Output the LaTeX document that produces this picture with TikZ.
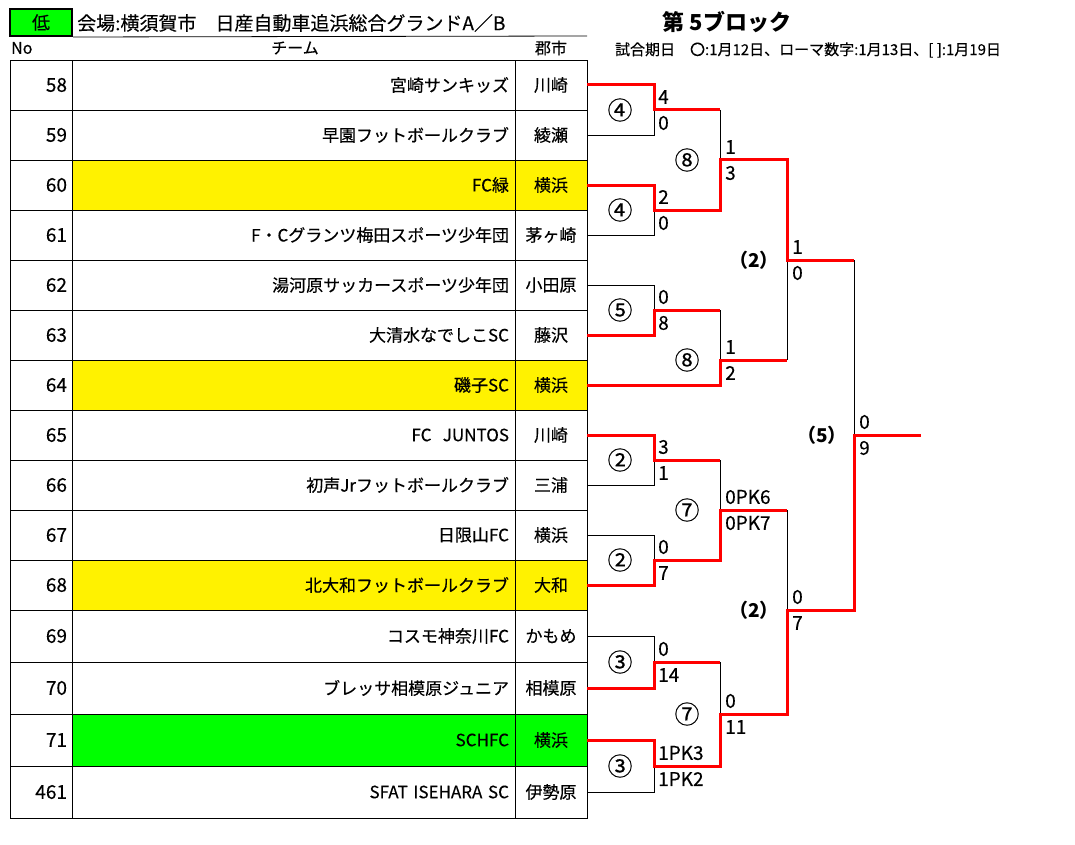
\documentclass[tikz,border=0pt]{standalone}
\usepackage{fontspec}
\setmainfont{Noto Sans CJK JP}[UprightFeatures={FakeBold=0.3}]
\usepackage{tikz}
\usepackage{xcolor}

\begin{document}
\begin{tikzpicture}[x=1pt, y=-1pt,
  cell/.style={draw, line width=0.8pt, minimum height=50pt, inner ysep=0pt, font=\fontsize{17}{17}\selectfont},
  numcell/.style={cell, minimum width=62pt, text width=52pt, inner xsep=5pt, align=right, font=\fontsize{19}{19}\selectfont},
  teamcell/.style={cell, minimum width=443pt, text width=431pt, inner xsep=6pt, align=right},
  citycell/.style={cell, minimum width=72pt, text width=66pt, inner xsep=3pt, align=center},
  tall/.style={minimum height=52pt},
  win/.style={red, line width=3pt},
  lose/.style={black, line width=0.8pt},
  score/.style={anchor=west, inner sep=0pt, font=\fontsize{19}{19}\selectfont},
  mlabel/.style={inner sep=0pt, font=\fontsize{25}{25}\selectfont},
  rlabel/.style={inner sep=0pt, font=\bfseries\fontsize{19}{19}\selectfont},
  head/.style={inner sep=0pt, font=\fontsize{16}{16}\selectfont}]
\useasboundingbox (0,0) rectangle (1075,845);
% header
\node[draw, line width=2pt, fill=green, minimum width=62pt, minimum height=27pt, inner sep=0pt, font=\fontsize{18}{18}\selectfont] (lowbox) at (41,22.5) {低};
\node[anchor=west, inner sep=0pt, font=\fontsize{19}{19}\selectfont] (venue) at (77,23) {会場:横須賀市　日産自動車追浜総合グランドA／B};
\coordinate (titleend) at (587,36);
\draw[line width=0.8pt] (lowbox.south east) -- (titleend);
\node[head, anchor=west] (nohead) at (11,48) {No};
\node[head] (teamhead) at (295,48) {チーム};
\node[head] (cityhead) at (551,48) {郡市};
\node[inner sep=0pt, font=\bfseries\fontsize{22}{22}\selectfont] (block) at (727,22) {第 5ブロック};
\node[inner sep=0pt, font=\fontsize{15}{15}\selectfont] (dates) at (808,50) {試合期日　〇:1月12日、ローマ数字:1月13日、[ ]:1月19日};
% teams
\node[numcell] (n58) at (41,85) {58}; \node[teamcell] (t58) at (293.5,85) {宮崎サンキッズ}; \node[citycell] (city58) at (551,85) {川崎};
\node[numcell] (n59) at (41,135) {59}; \node[teamcell] (t59) at (293.5,135) {早園フットボールクラブ}; \node[citycell] (city59) at (551,135) {綾瀬};
\node[numcell] (n60) at (41,185) {60}; \node[teamcell, fill=yellow] (t60) at (293.5,185) {FC緑}; \node[citycell, fill=yellow] (city60) at (551,185) {横浜};
\node[numcell] (n61) at (41,235) {61}; \node[teamcell] (t61) at (293.5,235) {F・Cグランツ梅田スポーツ少年団}; \node[citycell] (city61) at (551,235) {茅ヶ崎};
\node[numcell] (n62) at (41,285) {62}; \node[teamcell] (t62) at (293.5,285) {湯河原サッカースポーツ少年団}; \node[citycell] (city62) at (551,285) {小田原};
\node[numcell] (n63) at (41,335) {63}; \node[teamcell] (t63) at (293.5,335) {大清水なでしこSC}; \node[citycell] (city63) at (551,335) {藤沢};
\node[numcell] (n64) at (41,385) {64}; \node[teamcell, fill=yellow] (t64) at (293.5,385) {磯子SC}; \node[citycell, fill=yellow] (city64) at (551,385) {横浜};
\node[numcell] (n65) at (41,435) {65}; \node[teamcell] (t65) at (293.5,435) {FC\ \ JUNTOS}; \node[citycell] (city65) at (551,435) {川崎};
\node[numcell] (n66) at (41,485) {66}; \node[teamcell] (t66) at (293.5,485) {初声Jrフットボールクラブ}; \node[citycell] (city66) at (551,485) {三浦};
\node[numcell] (n67) at (41,535) {67}; \node[teamcell] (t67) at (293.5,535) {日限山FC}; \node[citycell] (city67) at (551,535) {横浜};
\node[numcell] (n68) at (41,585) {68}; \node[teamcell, fill=yellow] (t68) at (293.5,585) {北大和フットボールクラブ}; \node[citycell, fill=yellow] (city68) at (551,585) {大和};
\node[numcell, tall] (n69) at (41,636) {69}; \node[teamcell, tall] (t69) at (293.5,636) {コスモ神奈川FC}; \node[citycell, tall] (city69) at (551,636) {かもめ};
\node[numcell, tall] (n70) at (41,688) {70}; \node[teamcell, tall] (t70) at (293.5,688) {ブレッサ相模原ジュニア}; \node[citycell, tall] (city70) at (551,688) {相模原};
\node[numcell, tall] (n71) at (41,740) {71}; \node[teamcell, tall, fill=green] (t71) at (293.5,740) {SCHFC}; \node[citycell, tall, fill=green] (city71) at (551,740) {横浜};
\node[numcell, tall] (n461) at (41,792) {461}; \node[teamcell, tall] (t461) at (293.5,792) {SFAT ISEHARA SC}; \node[citycell, tall] (city461) at (551,792) {伊勢原};
% bracket joints
\coordinate (j1) at (654,110);
\coordinate (j2) at (654,210);
\coordinate (j3) at (654,310);
\coordinate (j4) at (654,460);
\coordinate (j5) at (654,560);
\coordinate (j6) at (654,662);
\coordinate (j7) at (654,766);
\coordinate (k1) at (720,160);
\coordinate (k2) at (720,360);
\coordinate (k3) at (720,510);
\coordinate (k4) at (720,714);
\coordinate (m1) at (787,260);
\coordinate (m2) at (787,610);
\coordinate (fin) at (854,435);
\coordinate (out) at (921,435);
% losers
\draw[lose] (city59.east) -| (j1);
\draw[lose] (city61.east) -| (j2);
\draw[lose] (city62.east) -| (j3);
\draw[lose] (city66.east) -| (j4);
\draw[lose] (city67.east) -| (j5);
\draw[lose] (city69.east) -| (j6);
\draw[lose] (city461.east) -| (j7);
\draw[lose] (j1 -| k1) -- (k1);
\draw[lose] (j3 -| k2) -- (k2);
\draw[lose] (j4 -| k3) -- (k3);
\draw[lose] (j6 -| k4) -- (k4);
\draw[lose] (k2 -| m1) -- (m1);
\draw[lose] (k3 -| m2) -- (m2);
\draw[lose] (m1 -| fin) -- (fin);
% winners
\draw[win] (city58.east) -| (j1) -- (j1 -| k1);
\draw[win] (city60.east) -| (j2) -- (j2 -| k1) -- (k1) -- (k1 -| m1) -- (m1) -- (m1 -| fin);
\draw[win] (city63.east) -| (j3) -- (j3 -| k2);
\draw[win] (city64.east) -| (k2) -- (k2 -| m1);
\draw[win] (city65.east) -| (j4) -- (j4 -| k3);
\draw[win] (city68.east) -| (j5) -- (j5 -| k3) -- (k3) -- (k3 -| m2);
\draw[win] (city70.east) -| (j6) -- (j6 -| k4);
\draw[win] (city71.east) -| (j7) -- (j7 -| k4) -- (k4) -- (k4 -| m2) -- (m2) -- (m2 -| fin) -- (fin) -- (out);
% match numbers
\node[mlabel] (g1) at (620,110) {④};
\node[mlabel] (g2) at (620,210) {④};
\node[mlabel] (g3) at (620,310) {⑤};
\node[mlabel] (g4) at (620,460) {②};
\node[mlabel] (g5) at (620,560) {②};
\node[mlabel] (g6) at (620,662) {③};
\node[mlabel] (g7) at (620,766) {③};
\node[mlabel] (h1) at (687,160) {⑧};
\node[mlabel] (h2) at (687,360) {⑧};
\node[mlabel] (h3) at (687,510) {⑦};
\node[mlabel] (h4) at (687,714) {⑦};
\node[rlabel] (sf1) at (754,260) {（2）};
\node[rlabel] (sf2) at (754,610) {（2）};
\node[rlabel] (fl) at (822,435) {（5）};
% scores
\node[score] (j1top) at (658,97) {4};   \node[score] (j1bot) at (658,123) {0};
\node[score] (j2top) at (658,197) {2};  \node[score] (j2bot) at (658,223) {0};
\node[score] (j3top) at (658,297) {0};  \node[score] (j3bot) at (658,323) {8};
\node[score] (j4top) at (658,447) {3};  \node[score] (j4bot) at (658,473) {1};
\node[score] (j5top) at (658,547) {0};  \node[score] (j5bot) at (658,573) {7};
\node[score] (j6top) at (658,649) {0};  \node[score] (j6bot) at (658,675) {14};
\node[score] (j7top) at (658,753) {1PK3}; \node[score] (j7bot) at (658,779) {1PK2};
\node[score] (k1top) at (725,147) {1};  \node[score] (k1bot) at (725,173) {3};
\node[score] (k2top) at (725,347) {1};  \node[score] (k2bot) at (725,373) {2};
\node[score] (k3top) at (725,497) {0PK6}; \node[score] (k3bot) at (725,523) {0PK7};
\node[score] (k4top) at (725,701) {0};  \node[score] (k4bot) at (725,727) {11};
\node[score] (m1top) at (792,247) {1};  \node[score] (m1bot) at (792,273) {0};
\node[score] (m2top) at (792,597) {0};  \node[score] (m2bot) at (792,623) {7};
\node[score] (fintop) at (859,422) {0}; \node[score] (finbot) at (859,448) {9};
\end{tikzpicture}
\end{document}
